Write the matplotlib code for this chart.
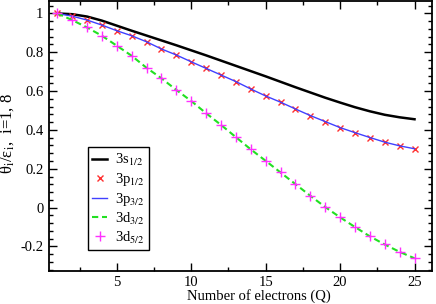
import matplotlib
matplotlib.use("Agg")
import matplotlib.pyplot as plt
from matplotlib.ticker import MultipleLocator

plt.rcParams['font.family'] = ['Liberation Serif', 'DejaVu Serif']
plt.rcParams['mathtext.fontset'] = 'stix'
plt.rcParams['font.size'] = 10.5

# numero de electrones
Q = list(range(1, 26))

# 3s1/2
s12 = [1.000, 0.996, 0.984, 0.963, 0.937, 0.911, 0.886, 0.861, 0.836, 0.810,
       0.784, 0.757, 0.730, 0.703, 0.676, 0.648, 0.620, 0.593, 0.566, 0.541,
       0.517, 0.496, 0.478, 0.465, 0.455]
# 3p1/2 (casi igual a 3p3/2)
p12 = [1.000, 0.986, 0.966, 0.940, 0.911, 0.885, 0.854, 0.817, 0.786, 0.751,
       0.717, 0.683, 0.649, 0.611, 0.575, 0.543, 0.508, 0.474, 0.443, 0.412,
       0.386, 0.361, 0.337, 0.318, 0.303]
p32 = p12
# 3d3/2 (casi igual a 3d5/2)
d32 = [1.000, 0.966, 0.928, 0.885, 0.834, 0.782, 0.720, 0.666, 0.606, 0.549,
       0.486, 0.426, 0.363, 0.300, 0.241, 0.181, 0.121, 0.061, 0.003, -0.050,
       -0.100, -0.148, -0.190, -0.228, -0.261]
d52 = d32

fig = plt.figure(figsize=(4.36, 3.04), dpi=100)
ax = fig.add_axes([0.1124, 0.1095, 0.8776, 0.8885])

ax.plot(Q, s12, color='black', lw=1.8, label=r'3s$_{1/2}$')
ax.plot(Q, p12, ls='none', marker='x', ms=5, mew=1.0, color='#ff3030', label=r'3p$_{1/2}$')
ax.plot(Q, p32, color='#4040ff', lw=1.0, label=r'3p$_{3/2}$')
ax.plot(Q, d32, color='#22e022', lw=1.5, dashes=(3, 1.8), label=r'3d$_{3/2}$')
ax.plot(Q, d52, ls='none', marker='+', ms=7, mew=1.0, color='#ff30ff', label=r'3d$_{5/2}$')

ax.set_xlim(0.45, 26.15)
ax.set_ylim(-0.325, 1.066)
ax.xaxis.set_major_locator(MultipleLocator(5))
ax.xaxis.set_minor_locator(MultipleLocator(2.5))
ax.yaxis.set_major_locator(MultipleLocator(0.2))
ax.yaxis.set_minor_locator(MultipleLocator(0.04))
ax.set_yticks([-0.2, 0, 0.2, 0.4, 0.6, 0.8, 1.0])
ax.set_yticklabels(['-0.2', '0', '0.2', '0.4', '0.6', '0.8', '1'])
ax.tick_params(which='both', direction='in', top=True, right=True, width=1.0)
ax.tick_params(which='major', length=6, pad=4)
ax.tick_params(which='minor', length=3)
for sp in ax.spines.values():
    sp.set_linewidth(1.3)

ax.set_xlabel('Number of electrons (Q)')
ax.xaxis.set_label_coords(0.549, -0.068)
ax.set_ylabel(r'θ$_\mathrm{i}$/ε$_\mathrm{i}$,  i=1, 8', fontsize=12)
ax.yaxis.set_label_coords(-0.085, 0.508)

leg = ax.legend(loc='lower left', bbox_to_anchor=(0.102, 0.0766), borderaxespad=0,
                fancybox=False, edgecolor='black', framealpha=1, handlelength=1.0,
                handletextpad=0.55, labelspacing=0.2, borderpad=0.3)
leg.get_frame().set_linewidth(1.0)

fig.savefig('out.png', dpi=100)
